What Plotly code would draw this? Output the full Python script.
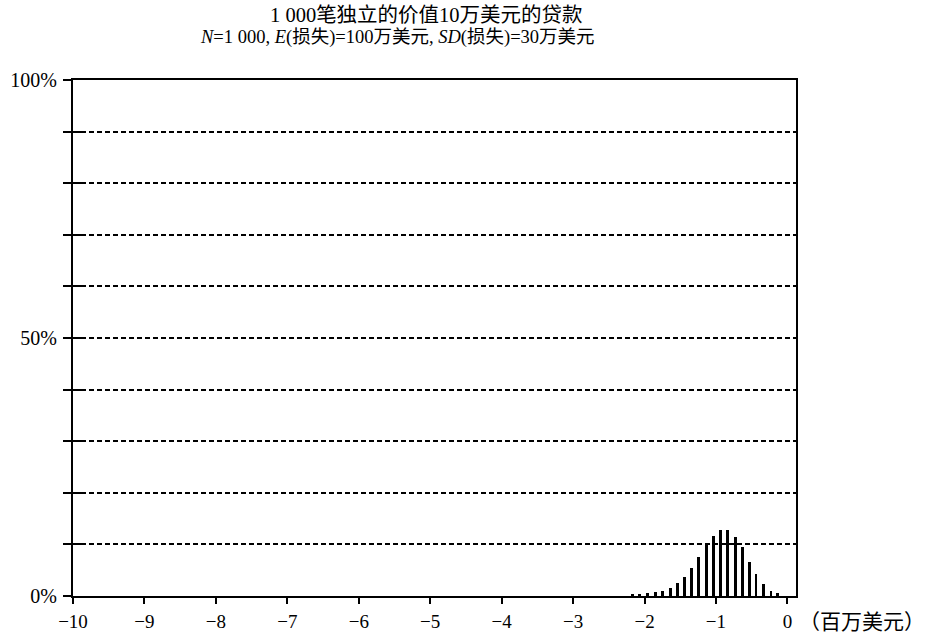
import plotly.graph_objects as go

# Loss distribution for 1,000 independent $100K loans (loss in $ millions, probability in %)
loss_x = [-2.17, -2.07, -1.96, -1.85, -1.75, -1.64, -1.54, -1.44, -1.34, -1.24, -1.13,
          -1.04, -0.94, -0.84, -0.73, -0.63, -0.53, -0.44, -0.34, -0.23, -0.14]
prob_pct = [0.26, 0.39, 0.52, 0.78, 1.03, 1.49, 2.58, 3.62, 5.36, 7.49, 9.88,
            11.69, 12.79, 12.79, 11.50, 9.43, 6.65, 4.26, 2.26, 1.03, 0.52]

x_ticks = [-10, -9, -8, -7, -6, -5, -4, -3, -2, -1, 0]
x_tick_text = ["−10", "−9", "−8", "−7", "−6", "−5", "−4", "−3", "−2", "−1", "0"]
y_ticks = [0, 10, 20, 30, 40, 50, 60, 70, 80, 90, 100]
y_tick_text = ["0%", "", "", "", "", "50%", "", "", "", "", "100%"]

title_line1 = "1 000笔独立的价值10万美元的贷款"
title_line2 = "<i>N</i>=1 000, <i>E</i>(损失)=100万美元, <i>SD</i>(损失)=30万美元"
unit_label = "（百万美元）"

SERIF = "Liberation Serif, DejaVu Serif, Noto Sans CJK SC, serif"
CJK = "Noto Sans CJK SC, sans-serif"

fig = go.Figure()
fig.add_trace(go.Bar(x=loss_x, y=prob_pct, width=0.04,
                     marker=dict(color="black", line=dict(width=0)),
                     showlegend=False, hoverinfo="skip"))
# invisible trace so the secondary y axis (inner tick marks) is drawn
fig.add_trace(go.Scatter(x=[-10], y=[0], yaxis="y2", mode="markers",
                         marker=dict(opacity=0), showlegend=False, hoverinfo="skip"))

fig.update_layout(
    template="none",
    width=926, height=634, autosize=False,
    margin=dict(l=73, r=130, t=80, b=38, pad=0),
    paper_bgcolor="white", plot_bgcolor="white",
    font=dict(family=SERIF, size=20, color="black"),
    bargap=0,
    xaxis=dict(range=[-10, 0.12], tickvals=x_ticks, ticktext=x_tick_text,
               ticks="outside", ticklen=6, tickwidth=1.5, tickcolor="black",
               showline=True, linecolor="black", linewidth=2, mirror=True,
               showgrid=False, zeroline=False, ticklabelstandoff=1, automargin=False,
               tickfont=dict(family=SERIF, size=19)),
    yaxis=dict(range=[0, 100], tickvals=y_ticks, ticktext=y_tick_text,
               ticks="outside", ticklen=8, tickwidth=1.5, tickcolor="black",
               showline=True, linecolor="black", linewidth=2, mirror=True,
               showgrid=True, gridcolor="black", gridwidth=1.5, griddash="5px,3px",
               zeroline=False, ticklabelstandoff=2, automargin=False,
               tickfont=dict(family=SERIF, size=20)),
    yaxis2=dict(range=[0, 100], overlaying="y", side="left", tickvals=y_ticks,
                ticks="inside", ticklen=8, tickwidth=1.5, tickcolor="black",
                showticklabels=False, showgrid=False, zeroline=False, showline=False,
                automargin=False),
    annotations=[
        dict(text=title_line1, xref="paper", yref="paper", x=0.4896, y=1.126,
             xanchor="center", yanchor="middle", showarrow=False,
             font=dict(family=SERIF, size=20.5)),
        dict(text=title_line2, xref="paper", yref="paper", x=0.4495, y=1.0814,
             xanchor="center", yanchor="middle", showarrow=False,
             font=dict(family=SERIF, size=18.5)),
        dict(text=unit_label, xref="paper", yref="paper", x=1.0913, y=-0.0465,
             xanchor="center", yanchor="middle", showarrow=False,
             font=dict(family=CJK, size=21)),
    ],
)

fig.write_html("out.html")
